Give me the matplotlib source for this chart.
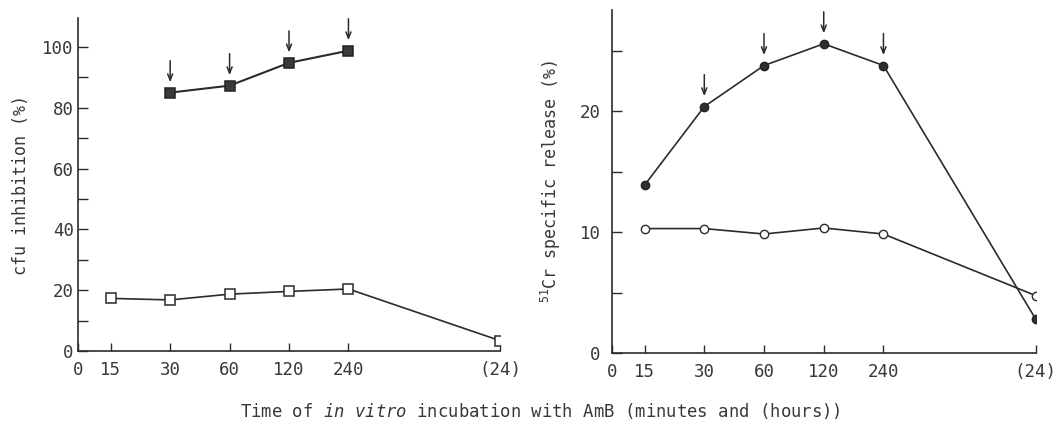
import matplotlib
matplotlib.use('Agg')
import matplotlib.pyplot as plt
import numpy as np

plt.rcParams['font.family'] = ['DejaVu Sans Mono']
plt.rcParams['mathtext.fontset'] = 'custom'
plt.rcParams['mathtext.rm'] = 'DejaVu Sans Mono'
plt.rcParams['mathtext.it'] = 'DejaVu Sans Mono:oblique'

# categories (minutes, last one in hours)
tick_labels = ['0', '15', '30', '60', '120', '240', '(24)']
times = ['15', '30', '60', '120', '240', '(24)']

# left panel: cfu inhibition (%)
cfu_open = [17.3, 16.8, 18.7, 19.6, 20.4, 3.4]
cfu_filled = [np.nan, 85.0, 87.3, 94.8, 98.8, np.nan]
cfu_arrows = ['30', '60', '120', '240']

# right panel: 51Cr specific release (%)
cr_filled = [13.9, 20.4, 23.8, 25.6, 23.8, 2.8]
cr_open = [10.3, 10.3, 9.85, 10.35, 9.85, 4.75]
cr_arrows = ['30', '60', '120', '240']

# x layout of the broken time axis
tick_pos = [0, 0.55, 1.55, 2.55, 3.55, 4.55, 7.1]
pos = dict(zip(tick_labels, tick_pos))
xs = np.array([pos[t] for t in times])

ink = '#2b2b2b'
txt = '#383838'

fig = plt.figure(figsize=(10.56, 4.24), dpi=100)
ax1 = fig.add_axes([0.0739, 0.1722, 0.3996, 0.785])
ax2 = fig.add_axes([0.5793, 0.1675, 0.4015, 0.809])


def style(ax, ymax, major, minor, ypad):
    ax.set_xlim(0, tick_pos[-1])
    ax.set_ylim(0, ymax)
    for s in ['top', 'right']:
        ax.spines[s].set_visible(False)
    for s in ['left', 'bottom']:
        ax.spines[s].set_color(ink)
        ax.spines[s].set_linewidth(1.2)
    ax.set_xticks(tick_pos)
    ax.set_xticklabels(tick_labels)
    ax.set_yticks(np.arange(0, ymax, major))
    ax.set_yticks(np.arange(minor, ymax, major), minor=True)
    ax.tick_params(axis='x', direction='in', length=6, width=1, color=ink,
                   labelsize=12.5, labelcolor=txt, pad=7)
    ax.tick_params(axis='y', which='both', direction='in', length=7, width=1,
                   color=ink, labelsize=12.5, labelcolor=txt, pad=ypad)


def arrows(ax, keys, vals):
    for k in keys:
        i = times.index(k)
        ax.annotate('', xy=(xs[i], vals[i]), xytext=(0, 23),
                    textcoords='offset points',
                    arrowprops=dict(arrowstyle='->,head_length=0.45,head_width=0.18',
                                    color=ink, lw=1.1, shrinkA=0, shrinkB=7.5))


# left
style(ax1, 109.5, 20, 10, 3)
ax1.plot(xs, cfu_open, color=ink, lw=1.2, marker='s', ms=6.5,
         mfc='white', mec=ink, mew=1.1)
ax1.plot(xs, cfu_filled, color=ink, lw=1.5, marker='s', ms=6.5,
         mfc='#3a3a3a', mec='#222222', mew=1.1)
arrows(ax1, cfu_arrows, cfu_filled)
ax1.set_ylabel('cfu inhibition (%)', fontsize=12, color=txt, labelpad=9)

# right
style(ax2, 28.4, 10, 5, 8)
ax2.plot(xs, cr_filled, color=ink, lw=1.2, marker='o', ms=6,
         mfc='#2f2f2f', mec='#222222', mew=1.0)
ax2.plot(xs, cr_open, color=ink, lw=1.2, marker='o', ms=6,
         mfc='white', mec=ink, mew=1.0)
arrows(ax2, cr_arrows, cr_filled)
ax2.set_ylabel('$^{51}$Cr specific release (%)', fontsize=12, color=txt, labelpad=12)

fig.text(0.512, 0.03, r'Time of $\mathit{in}$ $\mathit{vitro}$ incubation with AmB (minutes and (hours))',
         ha='center', va='center', fontsize=12.4, color=txt)

fig.savefig('out.png', dpi=100)
